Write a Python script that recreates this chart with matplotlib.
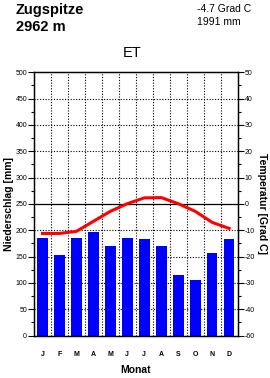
import numpy as np
import matplotlib.pyplot as plt
from matplotlib.ticker import MultipleLocator, FixedLocator

# Klimadiagramm Zugspitze
months = ['J', 'F', 'M', 'A', 'M', 'J', 'J', 'A', 'S', 'O', 'N', 'D']
precip_mm = [185, 154, 185, 196, 171, 185, 183, 170, 115, 106, 157, 183]
temp_c = [-11.2, -11.2, -10.4, -6.6, -2.8, 0.1, 2.3, 2.4, 0.1, -2.8, -7.0, -9.3]
temp_ticks = [50, 40, 30, 20, 10, 0, -10, -20, -30, -40, -50]
temp_tick_labels = ['50', '40', '30', '20', '10', '0', '-10', '-20', '-30', '-40', '-60']

plt.rcParams['font.family'] = ['Liberation Sans', 'DejaVu Sans']

fig = plt.figure(figsize=(2.7, 3.78), dpi=100)
ax = fig.add_axes([0.126, 0.112, 0.754, 0.697])

x = np.arange(1, 13)
ax.bar(x, precip_mm, width=0.63, color='#0000ff', zorder=2)

ax.set_xlim(0.5, 12.5)
ax.set_ylim(0, 500)
ax.yaxis.set_major_locator(MultipleLocator(50))
ax.yaxis.set_minor_locator(MultipleLocator(25))
ax.set_xticks(x)
ax.set_xticklabels(months, fontsize=5, fontweight='bold')
ax.tick_params(axis='x', length=0, pad=11)
ax.tick_params(axis='y', which='major', length=4, width=0.8, labelsize=5, pad=1)
ax.tick_params(axis='y', which='minor', length=2.5, width=0.8)

# grid
for xv in np.arange(1.5, 12, 1):
    ax.axvline(xv, color='black', lw=0.8, ls=(0, (1, 1.5)), zorder=1)
for yv in range(50, 500, 50):
    if yv == 250:
        ax.axhline(yv, color='black', lw=0.9, zorder=1)
    else:
        ax.axhline(yv, color='black', lw=0.8, ls=(0, (1, 1.5)), zorder=1)

ax.set_xlabel('Monat', fontsize=7.5, fontweight='bold', labelpad=5)
ax.set_ylabel('Niederschlag [mm]', fontsize=7.5, fontweight='bold', labelpad=1)

# temperature axis: 10 Grad C = 50 mm, 0 Grad C = 250 mm
ax2 = ax.twinx()
ax2.set_ylim(-50, 50)
ax2.yaxis.set_major_locator(FixedLocator(temp_ticks))
ax2.set_yticklabels(temp_tick_labels)
ax2.yaxis.set_minor_locator(MultipleLocator(5))
ax2.tick_params(axis='y', which='major', length=4, width=0.8, labelsize=5, pad=1)
ax2.tick_params(axis='y', which='minor', length=2.5, width=0.8)
ax2.plot(x, temp_c, color='#ff0000', lw=2.2, zorder=3)
ax2.set_ylabel('Temperatur [Grad C]', fontsize=7.5, fontweight='bold',
               rotation=270, labelpad=9)

for a in (ax, ax2):
    for s in a.spines.values():
        s.set_linewidth(0.9)

fig.text(0.058, 0.993, 'Zugspitze', fontsize=10.5, fontweight='bold', va='top')
fig.text(0.058, 0.946, '2962 m', fontsize=10.5, fontweight='bold', va='top')
fig.text(0.728, 0.990, '-4.7 Grad C', fontsize=7.5, va='top')
fig.text(0.728, 0.955, '1991 mm', fontsize=7.5, va='top')
fig.text(0.489, 0.840, 'ET', fontsize=10.5, ha='center', va='bottom')

fig.savefig('out.png', dpi=100)
